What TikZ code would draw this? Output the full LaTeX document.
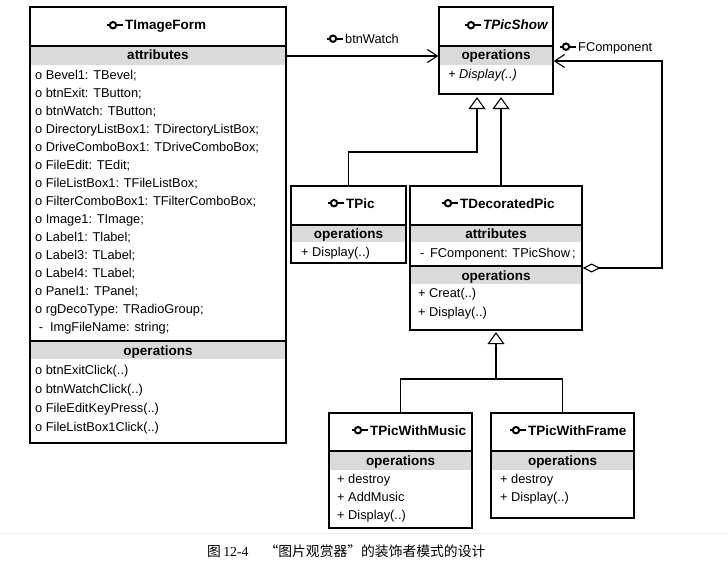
\documentclass[tikz,border=0pt]{standalone}
\usepackage{fontspec}
\setmainfont{Liberation Sans}
\newfontfamily\cjk{Noto Sans CJK SC}
\newfontfamily\capserif{Liberation Serif}
\usetikzlibrary{arrows.meta}
\definecolor{bandgray}{HTML}{DADADA}
\begin{document}
\begin{tikzpicture}[x=1pt,y=-1pt,
  box/.style={draw=black, line width=1.2pt, inner sep=0pt},
  sepline/.style={line width=1.1pt},
  itm/.style={anchor=base west, inner sep=0pt, font=\fontsize{12.8}{15}\selectfont},
  sect/.style={anchor=base, inner sep=0pt, font=\bfseries\fontsize{13.5}{16}\selectfont},
  ttl/.style={anchor=base west, inner sep=0pt, font=\bfseries\fontsize{13.5}{16}\selectfont},
  conn/.style={line width=1.1pt},
  gen/.style={conn, -{Triangle[open, length=12pt, width=17pt]}},
  assoc/.style={conn, -{Straight Barb[length=10pt, width=13pt]}},
  aggr/.style={conn, {Diamond[open, length=18pt, width=9pt]}-{Straight Barb[length=10pt, width=13pt]}},
  clsicon/.pic={\draw[line width=2.2pt] (-8,0) -- (8,0);
                \draw[line width=2pt, fill=white] (-1.5,0) circle (3.2pt);}
]
\useasboundingbox (0,0) rectangle (728,575);
\fill[white] (0,0) rectangle (728,575);
\draw[gray!12, line width=0.8pt] (0,533) -- (728,533);

% ---------- bands ----------
\fill[bandgray] (30,46) rectangle (286,65);
\fill[bandgray] (30,341) rectangle (286,359);
\fill[bandgray] (439,46) rectangle (553,65);
\fill[bandgray] (291,225) rectangle (406,242);
\fill[bandgray] (410,225) rectangle (582,242);
\fill[bandgray] (410,266) rectangle (582,284);
\fill[bandgray] (329,451) rectangle (472,470);
\fill[bandgray] (491,451) rectangle (634,470);

% ---------- separators ----------
\draw[sepline] (30,46) -- (286,46);
\draw[sepline] (30,341) -- (286,341);
\draw[sepline] (439,46) -- (553,46);
\draw[sepline] (291,225) -- (406,225);
\draw[sepline] (410,225) -- (582,225);
\draw[sepline] (410,266) -- (582,266);
\draw[sepline] (329,451) -- (472,451);
\draw[sepline] (491,451) -- (634,451);

% ---------- class boxes ----------
\node[box, minimum width=256pt, minimum height=436pt] (imf) at (158,225) {};
\node[box, minimum width=114pt, minimum height=87pt] (tps) at (496,50.5) {};
\node[box, minimum width=115pt, minimum height=77pt] (tpic) at (348.5,224.5) {};
\node[box, minimum width=172pt, minimum height=144pt] (tdp) at (496,258) {};
\node[box, minimum width=143pt, minimum height=115pt] (twm) at (400.5,470.5) {};
\node[box, minimum width=143pt, minimum height=105pt] (twf) at (562.5,465.5) {};

% ---------- titles ----------
\node[ttl] (imft) at (125,30) {TImageForm};
\node[ttl, font=\bfseries\itshape\fontsize{13.5}{16}\selectfont] (tpst) at (483,30) {TPicShow};
\node[ttl] (tpict) at (346,208) {TPic};
\node[ttl] (tdpt) at (460,208) {TDecoratedPic};
\node[ttl] (twmt) at (370,435) {TPicWithMusic};
\node[ttl] (twft) at (528,435) {TPicWithFrame};
\foreach \t in {imft,tpst,tpict,tdpt,twmt,twft}
  \pic at ([xshift=-10.5pt,yshift=4.8pt]\t.base west) {clsicon};

% ---------- section labels ----------
\node[sect] (imfs1) at (158,60) {attributes};
\node[sect] (imfs2) at (158,355) {operations};
\node[sect] (tpss) at (496,60) {operations};
\node[sect] (tpics) at (348.5,238.3) {operations};
\node[sect] (tdps1) at (496,238.3) {attributes};
\node[sect] (tdps2) at (496,280) {operations};
\node[sect] (twms) at (400.5,465.3) {operations};
\node[sect] (twfs) at (562.5,465.3) {operations};

% ---------- items ----------
\foreach \t [count=\i] in {{o Bevel1: TBevel;},{o btnExit: TButton;},{o btnWatch: TButton;},
  {o DirectoryListBox1: TDirectoryListBox;},{o DriveComboBox1: TDriveComboBox;},
  {o FileEdit: TEdit;},{o FileListBox1: TFileListBox;},{o FilterComboBox1: TFilterComboBox;},
  {o Image1: TImage;},{o Label1: Tlabel;},{o Label3: TLabel;},{o Label4: TLabel;},
  {o Panel1: TPanel;},{o rgDecoType: TRadioGroup;},{\ - \ ImgFileName: string;}}
  \node[itm] (imfa\i) at (35,61.5+18*\i) {\t};
\foreach \t [count=\i] in {{o btnExitClick(..)},{o btnWatchClick(..)},{o FileEditKeyPress(..)},{o FileListBox1Click(..)}}
  \node[itm] (imfo\i) at (35,355.5+19*\i) {\t};
\node[itm, font=\itshape\fontsize{12.8}{15}\selectfont] (tpso1) at (448,78.5) {+ Display(..)};
\node[itm] (tpico1) at (301,256.5) {+ Display(..)};
\node[itm] (tdpa1) at (420,257.5) {-\, FComponent: TPicShow\,;};
\node[itm] (tdpo1) at (418,297.5) {+ Creat(..)};
\node[itm] (tdpo2) at (418,316.5) {+ Display(..)};
\node[itm] (twmo1) at (337,483.5) {+ destroy};
\node[itm] (twmo2) at (337,501.5) {+ AddMusic};
\node[itm] (twmo3) at (337,519.5) {+ Display(..)};
\node[itm] (twfo1) at (500,483.5) {+ destroy};
\node[itm] (twfo2) at (500,501.5) {+ Display(..)};

% ---------- connectors ----------
\coordinate (ybw) at (0,56);
\coordinate (yfc) at (0,61);
\coordinate (ydm) at (0,268);
\coordinate (xfc) at (662,0);
\coordinate (ytp) at (0,152);
\coordinate (bj) at (496,379);

\draw[assoc] (imf.east |- ybw) -- (tps.west |- ybw);
\node[itm] (lbw) at (345,43.5) {btnWatch};
\pic at ([xshift=-10.5pt,yshift=4.8pt]lbw.base west) {clsicon};

\draw[aggr] (tdp.east |- ydm) -- (xfc |- ydm) -- (xfc |- yfc) -- (tps.east |- yfc);
\node[itm] (lfc) at (578,51.5) {FComponent};
\pic at ([xshift=-10.5pt,yshift=4.8pt]lfc.base west) {clsicon};

\draw[gen] (tpic.north) -- (tpic.north |- ytp) -| ([xshift=-19pt,yshift=-2.5pt]tps.south);
\draw[gen] ([xshift=5pt]tdp.north) -- ([xshift=5pt,yshift=-2.5pt]tps.south);
\draw[conn] (twm.north) |- (twf.north |- bj) -- (twf.north);
\draw[gen] (bj) -- ([yshift=-1.5pt]tdp.south);

% ---------- caption ----------
\node[anchor=base west, inner sep=0pt, font=\cjk\fontsize{13.8}{16}\selectfont] (cap) at (207,556)
  {图\,{\capserif 12-4}\hspace{16pt}“图片观赏器”的装饰者模式的设计};
\end{tikzpicture}
\end{document}
